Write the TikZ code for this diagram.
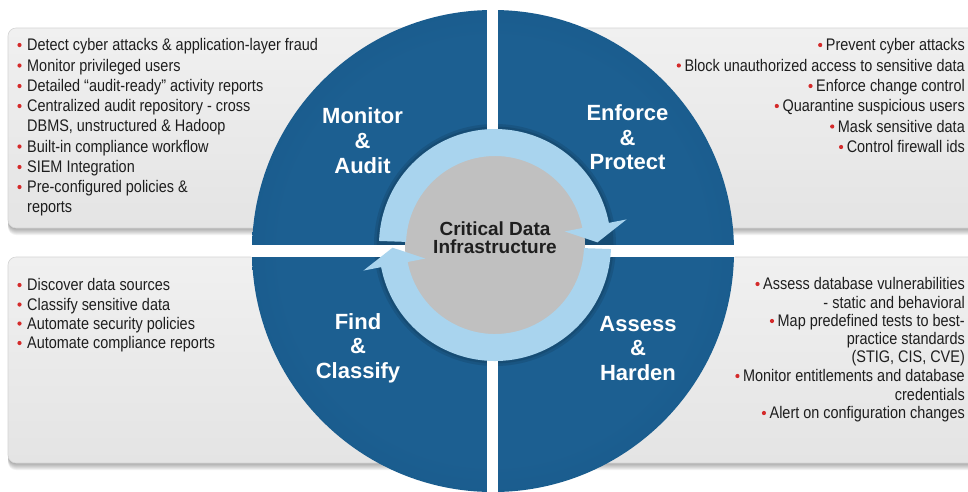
\documentclass[tikz,border=0pt]{standalone}
\usepackage{fontspec}
\setmainfont{Liberation Sans}
\newfontfamily\bodyfont[FakeStretch=0.86]{Liberation Sans}
\newfontfamily\headfont{Liberation Sans}
\definecolor{qin}{HTML}{1C5F91}
\definecolor{qout}{HTML}{0C4777}
\definecolor{ringblue}{HTML}{A9D4EE}
\definecolor{diskin}{HTML}{C0C0C0}
\definecolor{diskout}{HTML}{9E9E9E}
\definecolor{panelA}{HTML}{F0F0F0}
\definecolor{panelB}{HTML}{E4E4E4}
\definecolor{panelline}{HTML}{D4D4D4}
\definecolor{txtcol}{HTML}{1E1E1E}
\definecolor{bulred}{HTML}{D42A2A}
\pgfdeclareradialshading{bluedisk}{\pgfpoint{0bp}{0bp}}{color(0bp)=(qin); color(22bp)=(qin); color(50bp)=(qout)}
\pgfdeclareradialshading{graydisk}{\pgfpoint{0bp}{0bp}}{color(0bp)=(diskin); color(38bp)=(diskin); color(50bp)=(diskout)}
\begin{document}
\begin{tikzpicture}[x=1pt,y=-1pt,
  panel/.style={rounded corners=8pt, top color=panelA, bottom color=panelB, draw=panelline, line width=0.6pt},
  pshadow/.style={rounded corners=8pt, fill=black, opacity=0.05},
  lt/.style={anchor=base west, inner sep=0pt, text=txtcol, font=\bodyfont\fontsize{16.8}{16.8}\selectfont},
  rt/.style={anchor=base east, inner sep=0pt, text=txtcol, font=\bodyfont\fontsize{16.8}{16.8}\selectfont},
  bul/.style={fill=bulred},
  ttl/.style={anchor=base, inner sep=0pt, text=white, font=\headfont\bfseries\fontsize{22}{22}\selectfont},
  ctr/.style={anchor=base, inner sep=0pt, text=black!88, font=\headfont\bfseries\fontsize{19}{19}\selectfont},
  ringpart/.style={fill=ringblue},
]
\useasboundingbox (0,0) rectangle (968,491);
\clip (0,0) rectangle (968,491);
\fill[white] (0,0) rectangle (968,491);

% panel shadows
\foreach \s in {1,...,7} {
  \fill[pshadow] (8,{28+\s}) rectangle (492,{228+\s});
  \fill[pshadow] (494,{28+\s}) rectangle (990,{228+\s});
  \fill[pshadow] (8,{257+\s}) rectangle (492,{463+\s});
  \fill[pshadow] (494,{257+\s}) rectangle (990,{463+\s});
}
% panels
\path[panel] (8,28) rectangle (492,228);
\path[panel] (494,28) rectangle (990,228);
\path[panel] (8,257) rectangle (492,463);
\path[panel] (494,257) rectangle (990,463);

% blue disk
\shade[shading=bluedisk] (493,251) circle[radius=241];

% ring halo
\fill[black, opacity=0.10] (495,245) circle[radius=121];
\fill[black, opacity=0.10] (495,245) circle[radius=118.5];

% white cross gaps
\begin{scope}
  \clip (493,251) circle[radius=242];
  \fill[white] (486.5,0) rectangle (498,500);
  \fill[white] (240,245) rectangle (750,257);
\end{scope}

% centre disk and ring with arrows
\begin{scope}[shift={(495,245)}]
  \shade[shading=graydisk] (0,0) circle[radius=90];
  \fill[ringpart] (182:116) arc[start angle=182, end angle=349, radius=116]
     -- (349:134) -- (358.5:102.5) -- (349:71) -- (349:89)
     arc[start angle=349, end angle=182, radius=89] -- cycle;
  \fill[ringpart] (2:116) arc[start angle=2, end angle=169, radius=116]
     -- (169:134) -- (178.5:102.5) -- (169:71) -- (169:89)
     arc[start angle=169, end angle=2, radius=89] -- cycle;
\end{scope}

% centre text
\node[ctr] (cdi1) at (495,235) {Critical Data};
\node[ctr] (cdi2) at (495,253) {Infrastructure};

% quadrant titles
\node[ttl] (ma1) at (362.5,123) {Monitor};
\node[ttl] (ma2) at (362.5,148) {\&};
\node[ttl] (ma3) at (362.5,173) {Audit};
\node[ttl] (ep1) at (627.5,120) {Enforce};
\node[ttl] (ep2) at (627.5,145) {\&};
\node[ttl] (ep3) at (627.5,169) {Protect};
\node[ttl] (fc1) at (358,329) {Find};
\node[ttl] (fc2) at (358,353) {\&};
\node[ttl] (fc3) at (358,378) {Classify};
\node[ttl] (ah1) at (638,331) {Assess};
\node[ttl] (ah2) at (638,355.5) {\&};
\node[ttl] (ah3) at (638,380) {Harden};

% top-left list
\node[lt] (tl1) at (27,50.5) {Detect cyber attacks \& application-layer fraud};
\node[lt] (tl2) at (27,71) {Monitor privileged users};
\node[lt] (tl3) at (27,91.5) {Detailed “audit-ready” activity reports};
\node[lt] (tl4) at (27,111.5) {Centralized audit repository - cross};
\node[lt] (tl5) at (27,131.5) {DBMS, unstructured \& Hadoop};
\node[lt] (tl6) at (27,152) {Built-in compliance workflow};
\node[lt] (tl7) at (27,172.5) {SIEM Integration};
\node[lt] (tl8) at (27,192.5) {Pre-configured policies \&};
\node[lt] (tl9) at (27,212.5) {reports};
\foreach \y in {45,65.5,86,106,146.5,167,187} \fill[bul] (19.5,\y) circle[radius=2.1];

% bottom-left list
\node[lt] (bl1) at (27,290.5) {Discover data sources};
\node[lt] (bl2) at (27,310) {Classify sensitive data};
\node[lt] (bl3) at (27,329) {Automate security policies};
\node[lt] (bl4) at (27,348.5) {Automate compliance reports};
\foreach \y in {285,304.5,323.5,343} \fill[bul] (19.5,\y) circle[radius=2.1];

% top-right list
\node[rt] (tr1) at (965,50.5) {Prevent cyber attacks};
\node[rt] (tr2) at (965,71) {Block unauthorized access to sensitive data};
\node[rt] (tr3) at (965,91.5) {Enforce change control};
\node[rt] (tr4) at (965,111.5) {Quarantine suspicious users};
\node[rt] (tr5) at (965,132) {Mask sensitive data};
\node[rt] (tr6) at (965,152.5) {Control firewall ids};
\foreach \n in {tr1,tr2,tr3,tr4,tr5,tr6}
  \fill[bul] ([xshift=-5.5pt,yshift=5.5pt]\n.base west) circle[radius=2.1];

% bottom-right list
\node[rt] (br1) at (965,289.5) {Assess database vulnerabilities};
\node[rt] (br2) at (965,308) {- static and behavioral};
\node[rt] (br3) at (965,326.5) {Map predefined tests to best-};
\node[rt] (br4) at (965,344.5) {practice standards};
\node[rt] (br5) at (965,362.5) {(STIG, CIS, CVE)};
\node[rt] (br6) at (965,381.5) {Monitor entitlements and database};
\node[rt] (br7) at (965,400) {credentials};
\node[rt] (br8) at (965,418.5) {Alert on configuration changes};
\foreach \n in {br1,br3,br6,br8}
  \fill[bul] ([xshift=-5.5pt,yshift=5.5pt]\n.base west) circle[radius=2.1];
\end{tikzpicture}
\end{document}
